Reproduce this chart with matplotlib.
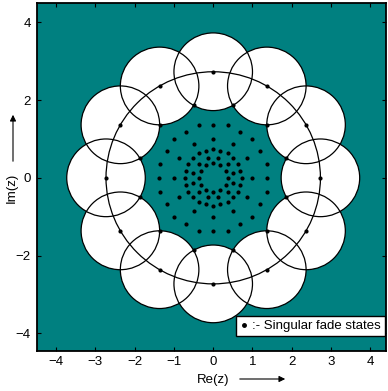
import numpy as np
import matplotlib
matplotlib.use("Agg")
import matplotlib.pyplot as plt
from matplotlib.patches import Circle
from matplotlib.lines import Line2D

plt.rcParams['font.family'] = ['Liberation Sans', 'DejaVu Sans']

# singular fade states, grouped by ring: radius and angles (degrees)
angles_even = [0, 30, 60, 90, 120, 150, 180, 210, 240, 270, 300, 330]
angles_odd = [15, 45, 75, 105, 135, 165, 195, 225, 255, 285, 315, 345]
ring_radius = [2.73, 1.93, 1.37, 1.41, 1.00, 0.73, 0.71, 0.52, 0.37]
ring_angles = [angles_even, angles_odd, angles_even, angles_odd, angles_even,
               angles_even, angles_odd, angles_odd, angles_even]

# outer ring states carry a unit-radius region each
region_radius = 1.0
outer_radius = ring_radius[0]

xs, ys = [], []
for r, angs in zip(ring_radius, ring_angles):
    a = np.deg2rad(angs)
    xs.extend(r * np.cos(a))
    ys.extend(r * np.sin(a))

W, H = 388, 391
fig = plt.figure(figsize=(W / 100, H / 100), dpi=100)
ax = fig.add_axes([36.5 / W, 40.3 / H, (386 - 36.5) / W, (388 - 40.3) / H])
ax.set_facecolor("#008080")

centres = [(outer_radius * np.cos(np.deg2rad(a)), outer_radius * np.sin(np.deg2rad(a)))
           for a in ring_angles[0]]
for c in centres:
    ax.add_patch(Circle(c, region_radius, facecolor="white", edgecolor="none", zorder=1))
for c in centres:
    ax.add_patch(Circle(c, region_radius, fill=False, edgecolor="k", lw=0.9, zorder=2))
ax.add_patch(Circle((0, 0), outer_radius, fill=False, edgecolor="k", lw=0.9, zorder=2))

ax.plot(xs, ys, "o", color="k", ms=3, mec="none", zorder=3)

ax.set_xlim(-4.5, 4.4)
ax.set_ylim(-4.45, 4.5)
ax.set_xticks(range(-4, 5))
ax.set_yticks([-4, -2, 0, 2, 4])
ax.tick_params(direction="in", length=3, width=0.8, labelsize=9.5,
               top=True, right=True, pad=4)
for s in ax.spines.values():
    s.set_linewidth(1.3)

leg = ax.legend(handles=[Line2D([], [], marker="o", ls="none", color="k", ms=2.5)],
                labels=[":- Singular fade states"], loc="lower right",
                bbox_to_anchor=(0.997, 0.042), borderaxespad=0, fontsize=9.5,
                handlelength=0.6, handletextpad=0.3, borderpad=0.3,
                fancybox=False, framealpha=1, edgecolor="k")
leg.get_frame().set_linewidth(1.0)

# axis labels with direction arrows
fig.text(213 / W, 1 - 380 / H, "Re(z)", ha="center", va="center", fontsize=9.5)
fig.text(12 / W, 1 - 188 / H, "Im(z)", ha="center", va="center", rotation=90, fontsize=9.5)
arrow = dict(arrowstyle="-|>", color="k", lw=0.8, mutation_scale=9)
ax.annotate("", xy=(288 / W, 1 - 379 / H), xytext=(237 / W, 1 - 379 / H),
            xycoords="figure fraction", textcoords="figure fraction", arrowprops=arrow)
ax.annotate("", xy=(13 / W, 1 - 112 / H), xytext=(13 / W, 1 - 164 / H),
            xycoords="figure fraction", textcoords="figure fraction", arrowprops=arrow)

fig.savefig("out.png", dpi=100)
